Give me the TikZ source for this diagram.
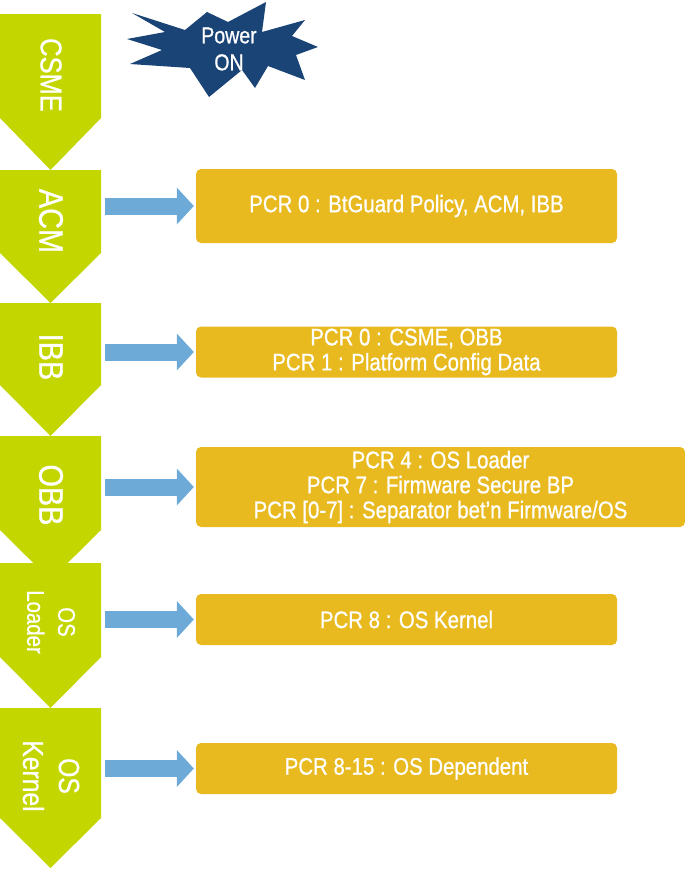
\documentclass[tikz,border=0pt]{standalone}
\usepackage{fontspec}
\setmainfont{Liberation Sans}[FakeStretch=0.85,FakeBold=0.8]
\usetikzlibrary{arrows.meta,calc}
\definecolor{chevgreen}{HTML}{C4D600}
\definecolor{pcrgold}{HTML}{E8BA20}
\definecolor{arrowblue}{HTML}{6DAAD8}
\definecolor{burstnavy}{HTML}{1B4476}
\begin{document}
\begin{tikzpicture}[x=1pt,y=-1pt,
  chev/.style={fill=chevgreen},
  chevlabel/.style={text=white, rotate=-90, inner sep=0pt, align=center},
  pcrbox/.style={fill=pcrgold, rounded corners=5pt, text=white, inner sep=0pt, align=center, font=\fontsize{24}{25}\selectfont},
  blockarrow/.style={draw=arrowblue, line width=17pt, -{Triangle[length=17pt,width=37pt,line width=0pt,fill=arrowblue]}, shorten <=4pt, shorten >=2pt}
]
\useasboundingbox (0,0) rectangle (685,870);

% starburst
\fill[burstnavy] (132,13) -- (185,30) -- (207,12) -- (228,22) -- (266,2) -- (262,32)
  -- (305,20) -- (292,36) -- (318,47) -- (296,55) -- (305,80) -- (268,66)
  -- (255,88) -- (242,70) -- (209,97) -- (190,68) -- (130,64) -- (162,50)
  -- (127,39) -- (165,32) -- cycle;
\node[text=white, inner sep=0pt, align=center, font=\fontsize{23}{27}\selectfont] (power) at (229,49) {Power\\ON};

% chevrons
\fill[chev] (0,14) -- (101,14) -- (101,118) -- (50.5,170) -- (0,118) -- cycle;
\fill[chev] (0,170) -- (101,170) -- (101,253) -- (50.5,303) -- (0,253) -- cycle;
\fill[chev] (0,303) -- (101,303) -- (101,385) -- (50.5,436) -- (0,385) -- cycle;
\fill[chev] (0,436) -- (101,436) -- (101,530) -- (50.5,580) -- (0,530) -- cycle;
\fill[chev] (0,563) -- (101,563) -- (101,657) -- (50.5,708) -- (0,657) -- cycle;
\fill[chev] (0,708) -- (101,708) -- (101,818) -- (50.5,868) -- (0,818) -- cycle;

\node[chevlabel, font=\fontsize{30}{30}\selectfont] (lcsme) at (51,75) {CSME};
\node[chevlabel, font=\fontsize{34}{34}\selectfont] (lacm) at (51,221) {ACM};
\node[chevlabel, font=\fontsize{34}{34}\selectfont] (libb) at (51,357) {IBB};
\node[chevlabel, font=\fontsize{34}{34}\selectfont] (lobb) at (51,495) {OBB};
\node[chevlabel, font=\fontsize{24}{31}\selectfont] (lldr) at (51,622) {OS\\Loader};
\node[chevlabel, font=\fontsize{29}{36}\selectfont] (lkrn) at (51,776) {OS\\Kernel};

% PCR boxes
\node[pcrbox, minimum width=421pt, minimum height=74pt] (b1) at (406.5,206) {PCR 0 : BtGuard Policy, ACM, IBB};
\node[pcrbox, minimum width=421pt, minimum height=51pt] (b2) at (406.5,352) {PCR 0 : CSME, OBB\\PCR 1 : Platform Config Data};
\node[pcrbox, minimum width=489pt, minimum height=80pt] (b3) at (440.5,487) {PCR 4 : OS Loader\\PCR 7 : Firmware Secure BP\\PCR [0-7] : Separator bet’n Firmware/OS};
\node[pcrbox, minimum width=421pt, minimum height=51pt] (b4) at (406.5,619.5) {PCR 8 : OS Kernel};
\node[pcrbox, minimum width=421pt, minimum height=51pt] (b5) at (406.5,768.5) {PCR 8-15 : OS Dependent};

% arrow starts on chevron edges
\coordinate (e1) at (101,206);
\coordinate (e2) at (101,352);
\coordinate (e3) at (101,487);
\coordinate (e4) at (101,619.5);
\coordinate (e5) at (101,768.5);
\draw[blockarrow] (e1) -- (b1.west);
\draw[blockarrow] (e2) -- (b2.west);
\draw[blockarrow] (e3) -- (b3.west);
\draw[blockarrow] (e4) -- (b4.west);
\draw[blockarrow] (e5) -- (b5.west);
\end{tikzpicture}
\end{document}
